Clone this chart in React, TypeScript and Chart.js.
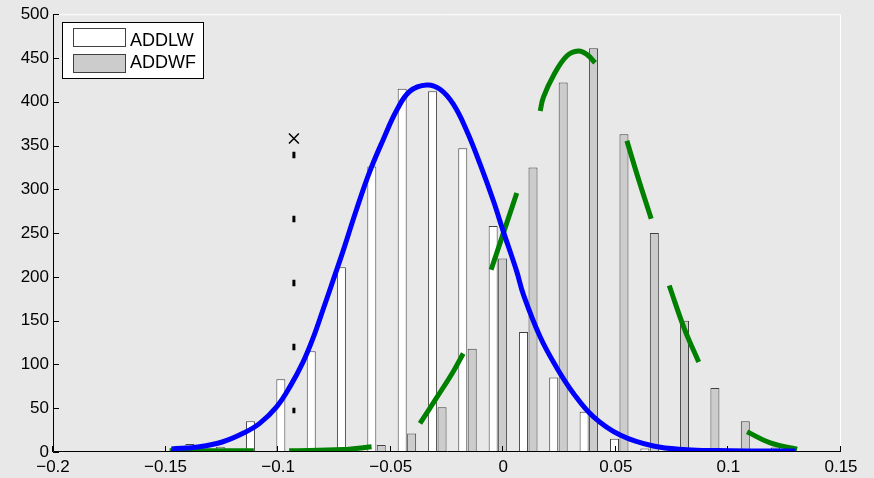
import React, { useEffect, useRef } from 'react';
import { Chart, registerables } from 'chart.js';

Chart.register(...registerables);

// ---- data ----
const binCenters = [-0.1371, -0.1236, -0.1102, -0.0967, -0.0832, -0.0698, -0.0563, -0.0428, -0.0293, -0.0159, -0.0024, 0.0111, 0.0245, 0.038, 0.0515, 0.065, 0.0784, 0.0919, 0.1054, 0.1188];
const addlwCounts = [9, 6, 35, 83, 115, 211, 326, 415, 412, 347, 258, 137, 85, 46, 15, 4, 1, 0, 0, 0];
const addwfCounts = [0, 0, 0, 0, 0, 0, 8, 21, 51, 118, 221, 325, 422, 461, 363, 250, 150, 73, 35, 5];

const xTickValues = [-0.2, -0.15, -0.1, -0.05, 0, 0.05, 0.1, 0.15];
const xTickLabels = ['\u22120.2', '\u22120.15', '\u22120.1', '\u22120.05', '0', '0.05', '0.1', '0.15'];
const yTickValues = [0, 50, 100, 150, 200, 250, 300, 350, 400, 450, 500];
const yTickLabels = ['0', '50', '100', '150', '200', '250', '300', '350', '400', '450', '500'];

const blueX = [-0.1474, -0.1349, -0.1245, -0.1156, -0.1082, -0.1007, -0.0948, -0.0889, -0.0845, -0.08, -0.0748, -0.0711, -0.0652, -0.0592, -0.0533, -0.0474, -0.0415, -0.034, -0.0281, -0.0222, -0.0162, -0.0103, -0.0044, 0.0, 0.006, 0.0089, 0.0164, 0.0238, 0.0312, 0.0401, 0.0519, 0.0667, 0.0816, 0.095, 0.11, 0.1298];
const blueY = [3.4, 6.0, 11.7, 21.3, 32.7, 51.6, 74.4, 103, 130, 163, 202, 230, 277, 321, 357, 390, 412, 419.1, 414.2, 397.2, 366.7, 328.8, 287, 252, 206, 180, 131.3, 96, 66.9, 40.2, 19.4, 6.8, 2.6, 1.6, 1.2, 1.1];

// green dashed fit, null marks a gap between dashes
const greenX = [-0.1482, -0.1108, null, -0.0951, -0.0713, -0.0585, null, -0.037, -0.0296, -0.0222, -0.0178, null, -0.0054, 0.006, null, 0.0164, 0.0178, 0.0223, 0.0282, 0.0334, 0.0371, 0.0408, null, 0.0549, 0.0599, 0.0657, null, 0.0737, 0.0804, 0.0868, null, 0.1083, 0.1186, 0.1305];
const greenY = [1.5, 1.5, null, 1.5, 2.8, 6.0, null, 32.7, 62, 92, 112.4, null, 208.1, 295.8, null, 389.5, 405, 430, 452.2, 457.9, 454.1, 444.5, null, 355.4, 313, 266.5, null, 190.2, 141, 102.8, null, 23.1, 10.3, 3.1];

const markerX = [-0.093];
const markerY = [358];
const threshX = [-0.093, -0.093];
const threshY = [342.8, 44.2];

const legendLabels = ['ADDLW', 'ADDWF'];
const FONT = '"Liberation Sans", Arial, Helvetica, sans-serif';

const decorPlugin = {
  id: 'decor',
  beforeDraw(chart: any) {
    const { ctx } = chart;
    ctx.save();
    ctx.fillStyle = '#e8e8e8';
    ctx.fillRect(0, 0, chart.width, chart.height);
    ctx.restore();
  },
  afterDraw(chart: any) {
    const { ctx, chartArea: a, scales } = chart;
    const xs = scales.x;
    const ys = scales.y;
    ctx.save();
    // white top/right box lines
    ctx.strokeStyle = '#ffffff';
    ctx.lineWidth = 1;
    ctx.beginPath();
    ctx.moveTo(a.left, a.top + 0.5);
    ctx.lineTo(a.right - 0.5, a.top + 0.5);
    ctx.lineTo(a.right - 0.5, a.bottom);
    ctx.stroke();
    // black left/bottom axes
    ctx.strokeStyle = '#000000';
    ctx.beginPath();
    ctx.moveTo(a.left + 0.5, a.top);
    ctx.lineTo(a.left + 0.5, a.bottom - 0.5);
    ctx.lineTo(a.right, a.bottom - 0.5);
    ctx.stroke();
    // inward ticks
    ctx.beginPath();
    yTickValues.forEach((v) => {
      const py = Math.round(ys.getPixelForValue(v)) + 0.5;
      ctx.moveTo(a.left, py);
      ctx.lineTo(a.left + 6, py);
    });
    xTickValues.forEach((v) => {
      const px = Math.round(xs.getPixelForValue(v)) - 0.5;
      ctx.moveTo(px, a.bottom);
      ctx.lineTo(px, a.bottom - 6);
    });
    ctx.stroke();
    // legend
    const bx = 62.5, by = 22.5, bw = 141, bh = 56;
    ctx.fillStyle = '#ffffff';
    ctx.fillRect(bx, by, bw, bh);
    ctx.strokeStyle = '#000000';
    ctx.strokeRect(bx, by, bw, bh);
    const sw = [
      { y: 28.5, fill: '#ffffff' },
      { y: 54.5, fill: '#cccccc' },
    ];
    sw.forEach((s, i) => {
      ctx.fillStyle = s.fill;
      ctx.fillRect(73.5, s.y, 52, 18);
      ctx.strokeStyle = '#404040';
      ctx.strokeRect(73.5, s.y, 52, 18);
      ctx.fillStyle = '#000000';
      ctx.font = `18px ${FONT}`;
      ctx.textBaseline = 'alphabetic';
      ctx.textAlign = 'left';
      ctx.fillText(legendLabels[i], 130, i === 0 ? 46.3 : 68.3);
    });
    ctx.restore();
  },
};

export default function App() {
  const ref = useRef<HTMLCanvasElement | null>(null);
  useEffect(() => {
    document.body.style.margin = '0';
    document.body.style.background = '#e8e8e8';
    const canvas = ref.current;
    if (!canvas) return;
    const chart = new Chart(canvas, {
      type: 'bar',
      data: {
        datasets: [
          {
            type: 'line',
            label: 'marker',
            data: markerX.map((x, i) => ({ x, y: markerY[i] })),
            showLine: false,
            pointStyle: 'crossRot',
            pointRadius: 7,
            pointBorderWidth: 1.5,
            pointBorderColor: '#000000',
            borderColor: '#000000',
            order: 1,
          } as any,
          {
            type: 'line',
            label: 'threshold',
            data: threshX.map((x, i) => ({ x, y: threshY[i] })),
            borderColor: '#000000',
            borderWidth: 3,
            borderDash: [6.5, 57.5],
            borderCapStyle: 'butt',
            pointRadius: 0,
            fill: false,
            order: 1,
          } as any,
          {
            type: 'line',
            label: 'fitADDLW',
            data: blueX.map((x, i) => ({ x, y: blueY[i] })),
            borderColor: '#0000ff',
            borderWidth: 5,
            pointRadius: 0,
            fill: false,
            tension: 0.4,
            order: 2,
          } as any,
          {
            type: 'line',
            label: 'fitADDWF',
            data: greenX.map((x, i) => ({ x: x === null ? NaN : x, y: greenY[i] })),
            borderColor: '#008000',
            borderWidth: 5,
            pointRadius: 0,
            fill: false,
            spanGaps: false,
            tension: 0.4,
            order: 2,
          } as any,
          {
            type: 'bar',
            label: legendLabels[0],
            data: binCenters.map((x, i) => ({ x, y: addlwCounts[i] > 0 ? addlwCounts[i] : null })),
            backgroundColor: '#ffffff',
            borderColor: '#404040',
            borderWidth: 1,
            categoryPercentage: 0.627,
            barPercentage: 0.95,
            order: 10,
          } as any,
          {
            type: 'bar',
            label: legendLabels[1],
            data: binCenters.map((x, i) => ({ x, y: addwfCounts[i] > 0 ? addwfCounts[i] : null })),
            backgroundColor: '#cccccc',
            borderColor: '#404040',
            borderWidth: 1,
            categoryPercentage: 0.627,
            barPercentage: 0.95,
            order: 10,
          } as any,
        ],
      },
      options: {
        responsive: false,
        animation: false,
        layout: { padding: { top: 13, right: 33, left: 0, bottom: 0 } },
        plugins: { legend: { display: false }, tooltip: { enabled: false } },
        scales: {
          x: {
            type: 'linear',
            min: -0.2,
            max: 0.15,
            offset: false,
            grid: { display: false, drawTicks: false },
            border: { display: false },
            afterBuildTicks: (s: any) => {
              s.ticks = xTickValues.map((v) => ({ value: v }));
            },
            afterFit: (s: any) => {
              s.height = 26;
            },
            ticks: {
              autoSkip: false,
              maxRotation: 0,
              padding: 5,
              color: '#000000',
              font: { family: FONT, size: 17 },
              callback: (_v: any, i: number) => xTickLabels[i],
            },
          },
          y: {
            type: 'linear',
            min: 0,
            max: 500,
            grid: { display: false, drawTicks: false },
            border: { display: false },
            afterBuildTicks: (s: any) => {
              s.ticks = yTickValues.map((v) => ({ value: v }));
            },
            afterFit: (s: any) => {
              s.width = 53;
            },
            ticks: {
              padding: 4,
              color: '#000000',
              font: { family: FONT, size: 17 },
              callback: (_v: any, i: number) => yTickLabels[i],
            },
          },
        },
      },
      plugins: [decorPlugin],
    });
    return () => chart.destroy();
  }, []);
  return (
    <div style={{ width: 874, height: 478 }}>
      <canvas ref={ref} width={874} height={478} style={{ display: 'block' }} />
    </div>
  );
}
